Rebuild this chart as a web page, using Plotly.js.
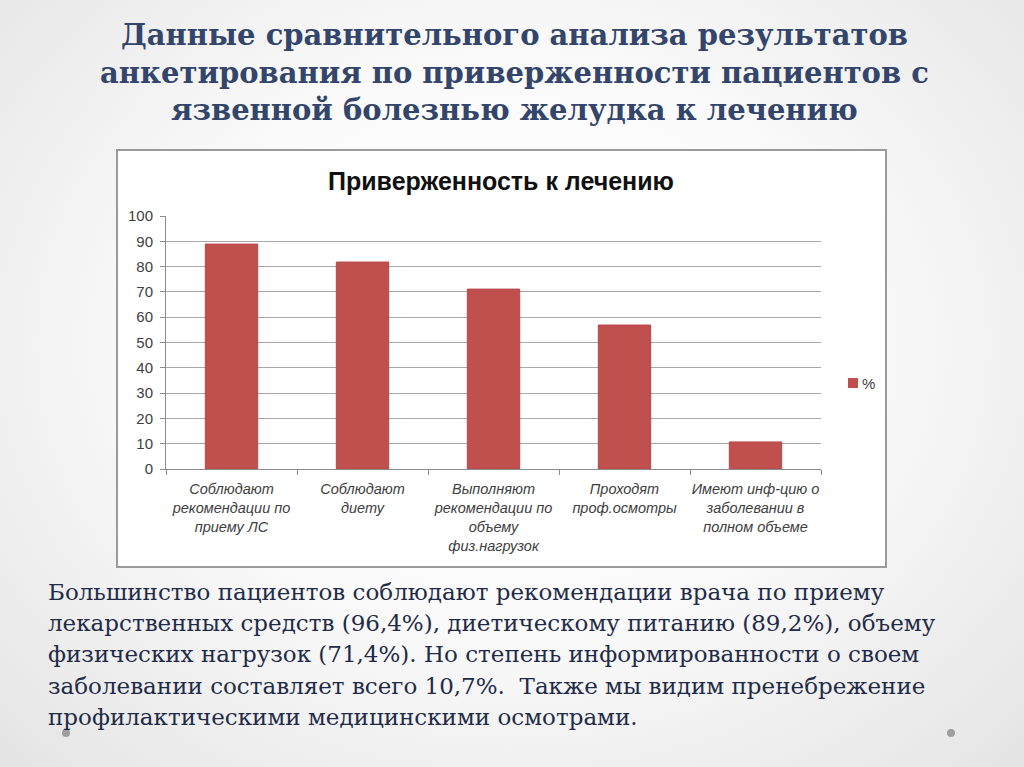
<!DOCTYPE html>
<html>
<head>
<meta charset="utf-8">
<script src="https://cdn.plot.ly/plotly-3.0.1.min.js"></script>
<style>
  html, body { margin:0; padding:0; width:1024px; height:767px; overflow:hidden;
    background: radial-gradient(ellipse at 50% 45%, #ffffff 0%, #fbfbfb 45%, #e4e4e4 100%); }
  #chart { width:1024px; height:767px; }
</style>
</head>
<body>
<div id="chart"></div>
<script>
// ---- data ----
const categories = [
  "Соблюдают<br>рекомендации по<br>приему ЛС",
  "Соблюдают<br>диету",
  "Выполняют<br>рекомендации по<br>объему<br>физ.нагрузок",
  "Проходят<br>проф.осмотры",
  "Имеют инф-цию о<br>заболевании в<br>полном объеме"
];
const values = [88.9, 81.8, 71.1, 56.9, 10.7];
const seriesName = "%";
const yTicks = [0, 10, 20, 30, 40, 50, 60, 70, 80, 90, 100];
const slideTitle = "Данные сравнительного анализа результатов<br>анкетирования по приверженности пациентов с<br>язвенной болезнью желудка к лечению";
const chartTitle = "Приверженность к лечению";
const bodyLines = [
  "Большинство пациентов соблюдают рекомендации врача по приему",
  "лекарственных средств (96,4%), диетическому питанию (89,2%), объему",
  "физических нагрузок (71,4%). Но степень информированности о своем",
  "заболевании составляет всего 10,7%.  Также мы видим пренебрежение",
  "профилактическими медицинскими осмотрами."
];

// ---- layout geometry (pixels) ----
const W = 1024, H = 767;
const PL = 166, PR = 821, PT = 216, PB = 469;
const px = x => (x - PL) / (PR - PL);
const py = y => (PB - y) / (PB - PT);
const barColor = '#c0504d';

const trace = {
  type: 'bar',
  x: categories,
  y: values,
  name: seriesName,
  marker: { color: barColor, line: { color: '#b8474a', width: 1 } },
  width: 0.4,
  showlegend: false,
  hoverinfo: 'skip'
};

const bodyAnnotations = bodyLines.map((t, i) => ({
  text: t, xref: 'paper', yref: 'paper',
  x: px(46), y: py(592 + i * 31.2), xanchor: 'left', yanchor: 'middle', align: 'left', showarrow: false,
  font: { family: 'DejaVu Serif, serif', size: 23, color: '#1f2b47' }
}));

const layout = {
  width: W, height: H,
  margin: { l: PL, r: W - PR, t: PT, b: H - PB, pad: 0 },
  paper_bgcolor: 'rgba(0,0,0,0)',
  plot_bgcolor: 'rgba(0,0,0,0)',
  xaxis: {
    type: 'category',
    showgrid: false,
    showline: true, linecolor: '#8c8c8c', linewidth: 1,
    ticks: 'outside', tickson: 'boundaries', ticklen: 5, tickcolor: '#8c8c8c',
    ticklabelstandoff: 7,
    tickfont: { family: 'Liberation Sans, sans-serif', size: 14.5, color: '#404040', style: 'italic' },
    tickangle: 0,
    fixedrange: true
  },
  yaxis: {
    range: [0, 100],
    tickvals: yTicks,
    showgrid: true, gridcolor: '#a8a8a8', gridwidth: 1,
    showline: true, linecolor: '#8c8c8c', linewidth: 1,
    ticks: 'outside', ticklen: 5, tickcolor: '#8c8c8c',
    ticklabelstandoff: 4,
    tickfont: { family: 'Liberation Sans, sans-serif', size: 15, color: '#404040' },
    zeroline: false,
    fixedrange: true
  },
  bargap: 0.6,
  shapes: [
    { type: 'rect', xref: 'paper', yref: 'paper', layer: 'below',
      x0: px(117), x1: px(886), y0: py(567), y1: py(150),
      fillcolor: '#ffffff', line: { color: '#9a9a9a', width: 2 } },
    { type: 'rect', xref: 'paper', yref: 'paper',
      x0: px(848), x1: px(858), y0: py(388), y1: py(378),
      fillcolor: barColor, line: { width: 0 } },
    { type: 'circle', xref: 'paper', yref: 'paper',
      x0: px(62), x1: px(70), y0: py(737), y1: py(729),
      fillcolor: '#9e9e9e', line: { width: 0 } },
    { type: 'circle', xref: 'paper', yref: 'paper',
      x0: px(947), x1: px(955), y0: py(737), y1: py(729),
      fillcolor: '#9e9e9e', line: { width: 0 } }
  ],
  annotations: [
    { text: slideTitle, xref: 'paper', yref: 'paper',
      x: px(514), y: py(73), xanchor: 'center', yanchor: 'middle', showarrow: false,
      font: { family: 'DejaVu Serif, serif', size: 29, color: '#33456a', weight: 'bold' } },
    { text: '<b>' + chartTitle + '</b>', xref: 'paper', yref: 'paper',
      x: px(501), y: py(181), xanchor: 'center', yanchor: 'middle', showarrow: false,
      font: { family: 'Liberation Sans, sans-serif', size: 25, color: '#111111' } },
    { text: seriesName, xref: 'paper', yref: 'paper',
      x: px(860), y: py(383), xanchor: 'left', yanchor: 'middle', showarrow: false,
      font: { family: 'Liberation Sans, sans-serif', size: 15, color: '#404040' } }
  ].concat(bodyAnnotations)
};

Plotly.newPlot('chart', [trace], layout, { displayModeBar: false, staticPlot: true });
</script>
</body>
</html>
